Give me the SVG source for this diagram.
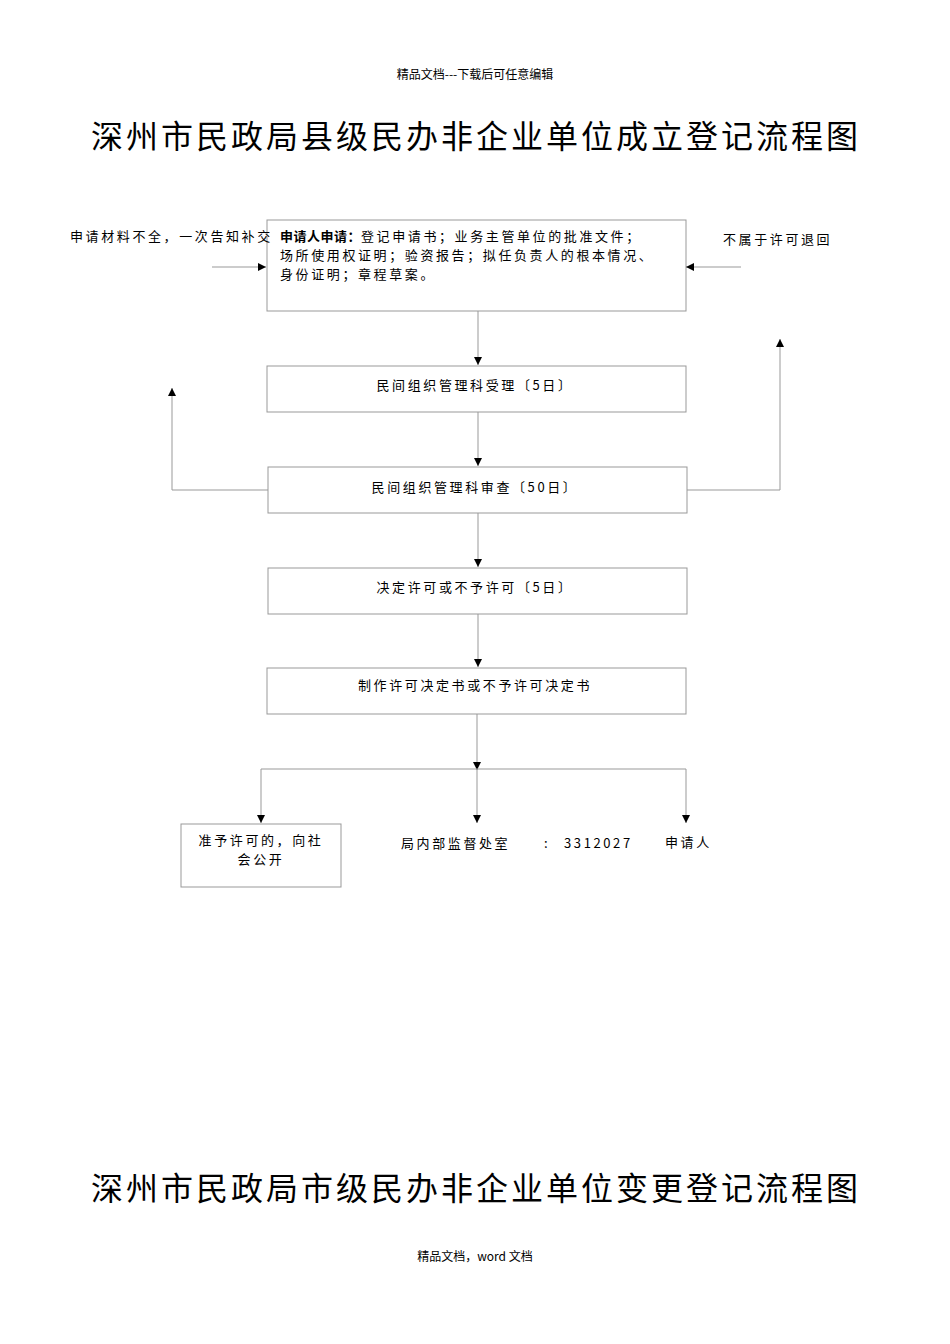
<svg xmlns="http://www.w3.org/2000/svg" width="950" height="1344" viewBox="0 0 950 1344">
<style>
text{font-family:"Noto Sans CJK SC","Liberation Sans",sans-serif;fill:#000}
.s{font-size:13px;letter-spacing:2.6px}
.b{fill:#fff;stroke:#999;stroke-width:1}
.l{fill:none;stroke:#999;stroke-width:1}
.t{font-size:32px;letter-spacing:3px}
</style>
<defs><marker id="a" viewBox="0 0 10 10" refX="10" refY="5" markerWidth="8" markerHeight="8" orient="auto" markerUnits="userSpaceOnUse"><path d="M0,0L10,5L0,10z" fill="#000"/></marker></defs>
<rect width="950" height="1344" fill="#fff"/>
<text x="475" y="79" font-size="12" text-anchor="middle">精品文档---下载后可任意编辑</text>
<text x="476" y="148" class="t" text-anchor="middle">深州市民政局县级民办非企业单位成立登记流程图</text>
<text x="476" y="1200" class="t" text-anchor="middle">深州市民政局市级民办非企业单位变更登记流程图</text>
<text x="475" y="1261" font-size="12" text-anchor="middle">精品文档，word 文档</text>
<g id="n1"><rect class="b" x="267" y="220" width="419" height="91"/>
<text class="s" x="280" y="241"><tspan font-weight="bold" letter-spacing="0.5">申请人申请：</tspan>登记申请书；业务主管单位的批准文件；</text>
<text class="s" x="280" y="260">场所使用权证明；验资报告；拟任负责人的根本情况、</text>
<text class="s" x="280" y="279">身份证明；章程草案。</text></g>
<g id="lbl1"><text class="s" x="70" y="241">申请材料不全，一次告知补交</text></g>
<g id="lbl2"><text class="s" x="723" y="244">不属于许可退回</text></g>
<g id="n2"><rect class="b" x="267" y="366" width="419" height="46"/><text class="s" x="475" y="390" text-anchor="middle">民间组织管理科受理〔5日〕</text></g>
<g id="n3"><rect class="b" x="268" y="467" width="419" height="46"/><text class="s" x="475" y="492" text-anchor="middle">民间组织管理科审查〔50日〕</text></g>
<g id="n4"><rect class="b" x="268" y="568" width="419" height="46"/><text class="s" x="475" y="592" text-anchor="middle">决定许可或不予许可〔5日〕</text></g>
<g id="n5"><rect class="b" x="267" y="668" width="419" height="46"/><text class="s" x="475" y="690" text-anchor="middle">制作许可决定书或不予许可决定书</text></g>
<g id="n6"><rect class="b" x="181" y="824" width="160" height="63"/><text class="s" x="261" y="845" text-anchor="middle">准予许可的，向社</text><text class="s" x="261" y="864" text-anchor="middle">会公开</text></g>
<g id="n7"><text class="s" x="401" y="848">局内部监督处室</text><text class="s" x="544" y="848">:</text><text class="s" x="564" y="848" font-size="15">3312027</text></g>
<g id="n8"><text class="s" x="665" y="847">申请人</text></g>
<g id="connectors">
<path class="l" d="M212,267H266" marker-end="url(#a)"/>
<path class="l" d="M741,267H686" marker-end="url(#a)"/>
<path class="l" d="M478,311V365" marker-end="url(#a)"/>
<path class="l" d="M478,412V466" marker-end="url(#a)"/>
<path class="l" d="M478,513V567" marker-end="url(#a)"/>
<path class="l" d="M478,614V667" marker-end="url(#a)"/>
<path class="l" d="M268,490H172V388" marker-end="url(#a)"/>
<path class="l" d="M687,490H780V339" marker-end="url(#a)"/>
<path class="l" d="M477,714V770" marker-end="url(#a)"/>
<path class="l" d="M686,769H261V823" marker-end="url(#a)"/>
<path class="l" d="M477,770V823" marker-end="url(#a)"/>
<path class="l" d="M686,769V823" marker-end="url(#a)"/>
</g>
</svg>
